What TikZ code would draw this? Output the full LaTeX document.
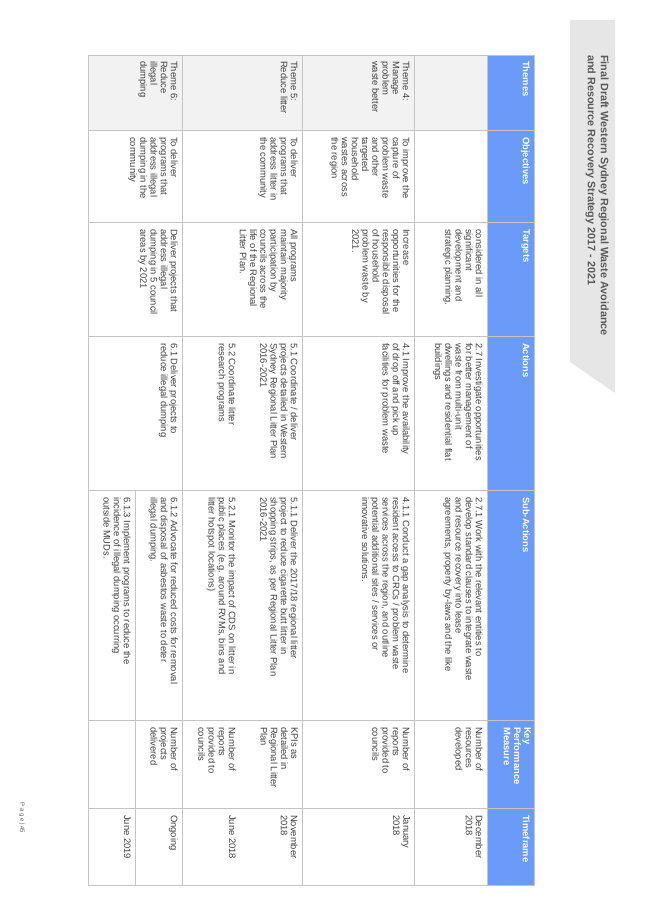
\documentclass[tikz,border=0pt]{standalone}
\usepackage{fontspec}
\setmainfont{Liberation Sans}
\definecolor{hdr}{HTML}{6B9BF9}
\definecolor{grid}{HTML}{C4C4C4}
\definecolor{thm}{HTML}{F2F2F2}
\definecolor{txt}{HTML}{404040}
\definecolor{tab}{HTML}{E6E6E6}
\definecolor{ttl}{HTML}{595959}
\begin{document}
\begin{tikzpicture}[x=1pt,y=-1pt,
  ct/.style={rotate=-90,anchor=north west,inner sep=0pt,align=left,text=txt,font=\fontsize{9.4}{10.2}\selectfont},
  ht/.style={rotate=-90,anchor=north west,inner sep=0pt,align=left,text=white,font=\fontsize{9.4}{10.2}\selectfont\bfseries}]
\useasboundingbox (0,0) rectangle (653,923);
% title tab
\fill[tab] (570,20) -- (615,20) -- (615,393) -- (570,362) -- cycle;
\node[rotate=-90,anchor=north west,inner sep=0pt,align=left,text=ttl,font=\fontsize{10.8}{13}\selectfont\bfseries] (title) at (609,55) {Final Draft Western Sydney Regional Waste Avoidance\\and Resource Recovery Strategy 2017 - 2021};
% page number
\node[rotate=-90,anchor=center,inner sep=0pt,text=ttl,font=\fontsize{6}{7}\selectfont] (pg) at (22,818) {P a g e | 45};
% fills
\fill[hdr] (487,55) rectangle (534,885);
\fill[thm] (88,55) rectangle (487,130);
% grid
\draw[grid,line width=0.8pt] (88,55) rectangle (534,885);
\foreach \y in {130,222,336,490,720,808} \draw[grid,line width=0.8pt] (88,\y) -- (534,\y);
\foreach \x in {487,414,302,182} \draw[grid,line width=0.8pt] (\x,55) -- (\x,885);
\draw[grid,line width=0.8pt] (135,490) -- (135,885);
% header
\node[ht] (h1) at (530,61) {Themes};
\node[ht] (h2) at (530,137) {Objectives};
\node[ht] (h3) at (530,229) {Targets};
\node[ht] (h4) at (530,343) {Actions};
\node[ht] (h5) at (530,497) {Sub-Actions};
\node[ht] (h6) at (531,727) {Key\\Performance\\Measure};
\node[ht] (h7) at (530,815) {Timeframe};
% row 1
\node[ct] (r1c3) at (483,229) {considered in all\\significant\\development and\\strategic planning.};
\node[ct] (r1c4) at (483,343) {2.7 Investigate opportunities\\for better management of\\waste from multi-unit\\dwellings and residential flat\\buildings};
\node[ct] (r1c5) at (483,497) {2.7.1 Work with the relevant entities to\\develop standard clauses to integrate waste\\and resource recovery into lease\\agreements, property by-laws and the like};
\node[ct] (r1c6) at (483,727) {Number of\\resources\\developed};
\node[ct] (r1c7) at (483,815) {December\\2018};
% theme 4
\node[ct] (r2c1) at (410,61) {Theme 4:\\Manage\\problem\\waste better};
\node[ct] (r2c2) at (410,137) {To improve the\\capture of\\problem waste\\and other\\targeted\\household\\wastes across\\the region};
\node[ct] (r2c3) at (410,229) {Increase\\opportunities for the\\responsible disposal\\of household\\problem waste by\\2021.};
\node[ct] (r2c4) at (410,343) {4.1 Improve the availability\\of drop off and pick up\\facilities for problem waste};
\node[ct] (r2c5) at (410,497) {4.1.1 Conduct a gap analysis to determine\\resident access to CRCs / problem waste\\services across the region, and outline\\potential additional sites / services or\\innovative solutions.};
\node[ct] (r2c6) at (410,727) {Number of\\reports\\provided to\\councils};
\node[ct] (r2c7) at (410,815) {January\\2018};
% theme 5
\node[ct] (r3c1) at (298,61) {Theme 5:\\Reduce litter};
\node[ct] (r3c2) at (298,137) {To deliver\\programs that\\address litter in\\the community};
\node[ct] (r3c3) at (298,229) {All programs\\maintain majority\\participation by\\councils across the\\life of the Regional\\Litter Plan.};
\node[ct] (r3c4) at (298,343) {5.1 Coordinate / deliver\\projects detailed in Western\\Sydney Regional Litter Plan\\2016-2021};
\node[ct] (r3c4b) at (236,343) {5.2 Coordinate litter\\research programs};
\node[ct] (r3c5) at (298,497) {5.1.1 Deliver the 2017/18 regional litter\\project to reduce cigarette butt litter in\\shopping strips, as per Regional Litter Plan\\2016-2021};
\node[ct] (r3c5b) at (236,497) {5.2.1 Monitor the impact of CDS on litter in\\public places (e.g. around RVMs, bins and\\litter hotspot locations)};
\node[ct] (r3c6) at (298,727) {KPIs as\\detailed in\\Regional Litter\\Plan};
\node[ct] (r3c6b) at (236,727) {Number of\\reports\\provided to\\councils};
\node[ct] (r3c7) at (298,815) {November\\2018};
\node[ct] (r3c7b) at (236,815) {June 2018};
% theme 6
\node[ct] (r4c1) at (178,61) {Theme 6:\\Reduce\\illegal\\dumping};
\node[ct] (r4c2) at (178,137) {To deliver\\programs that\\address illegal\\dumping in the\\community};
\node[ct] (r4c3) at (178,229) {Deliver projects that\\address illegal\\dumping in 5 council\\areas by 2021};
\node[ct] (r4c4) at (178,343) {6.1 Deliver projects to\\reduce illegal dumping};
\node[ct] (r4c5) at (178,497) {6.1.2 Advocate for reduced costs for removal\\and disposal of asbestos waste to deter\\illegal dumping.};
\node[ct] (r4c6) at (178,727) {Number of\\projects\\delivered};
\node[ct] (r4c7) at (178,815) {Ongoing};
\node[ct] (r5c5) at (131,497) {6.1.3 Implement programs to reduce the\\incidence of illegal dumping occurring\\outside MUDs.};
\node[ct] (r5c7) at (131,815) {June 2019};
\end{tikzpicture}
\end{document}
